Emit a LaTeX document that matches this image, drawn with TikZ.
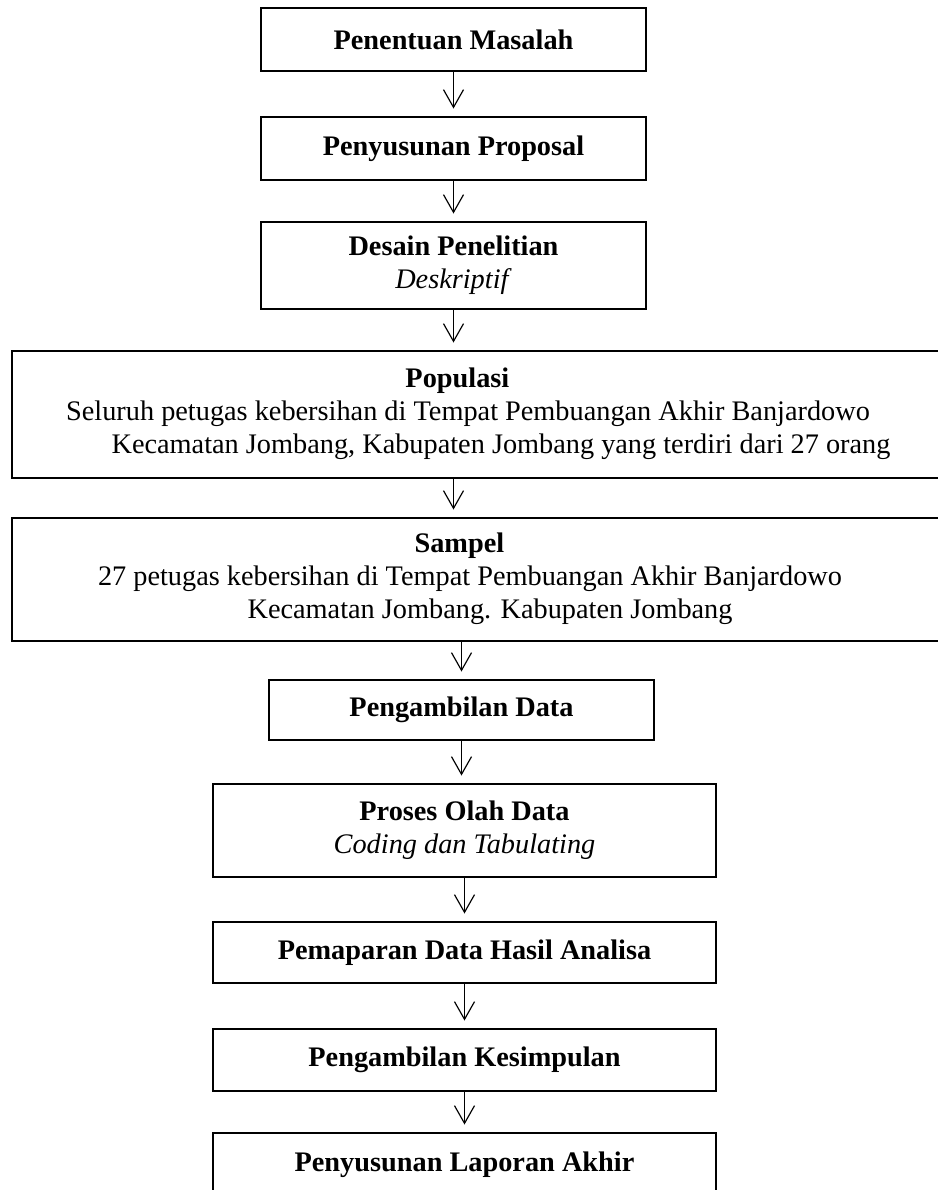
\documentclass[tikz,border=0pt]{standalone}
\usepackage{fontspec}
\setmainfont{Liberation Serif}
\usetikzlibrary{arrows.meta}

\newcommand{\px}{0.424pt}

\begin{document}
\begin{tikzpicture}[x=\px, y=-\px,
    font=\fontsize{12pt}{14pt}\selectfont,
    stepbox/.style={draw, line width=0.8pt, inner sep=0pt, align=center},
    flow/.style={-{Straight Barb[length=7.5pt,width=8.5pt]}, line width=0.5pt, shorten >=3.2pt}
]
\useasboundingbox (0,0) rectangle (937,1190);

% Tahap awal
\node[stepbox, minimum width=385*\px, minimum height=63*\px] (masalah) at (453.5,39.5) {\textbf{Penentuan Masalah}};
\node[stepbox, minimum width=385*\px, minimum height=63*\px] (proposal) at (453.5,148.5) {\textbf{Penyusunan Proposal}};
\node[stepbox, minimum width=385*\px, minimum height=87*\px] (desain) at (453.5,265.5) {\textbf{Desain Penelitian}\\\textit{Deskriptif}};

% Populasi dan sampel (kotak lebar)
\node[stepbox, minimum width=938*\px, minimum height=127*\px] (populasi) at (481,414.5) {};
\node[align=center] (populasitext) at (468,414) {\textbf{Populasi}\hspace*{9pt}\\Seluruh petugas kebersihan di Tempat Pembuangan Akhir Banjardowo\\\hspace*{28pt}Kecamatan Jombang, Kabupaten Jombang yang terdiri dari 27 orang};
\node[stepbox, minimum width=938*\px, minimum height=123*\px] (sampel) at (481,579.5) {};
\node[align=center] (sampeltext) at (470,579) {\textbf{Sampel}\hspace*{9pt}\\27 petugas kebersihan di Tempat Pembuangan Akhir Banjardowo\\\hspace*{17pt}Kecamatan Jombang. Kabupaten Jombang};

% Tahap pengolahan
\node[stepbox, minimum width=385*\px, minimum height=60*\px] (ambil) at (461.5,710) {\textbf{Pengambilan Data}};
\node[stepbox, minimum width=503*\px, minimum height=93*\px] (olah) at (464.5,830.5) {\textbf{Proses Olah Data}\\\textit{Coding dan Tabulating}};
\node[stepbox, minimum width=503*\px, minimum height=61*\px] (paparan) at (464.5,952.5) {\textbf{Pemaparan Data Hasil Analisa}};
\node[stepbox, minimum width=503*\px, minimum height=62*\px] (simpulan) at (464.5,1060) {\textbf{Pengambilan Kesimpulan}};
\node[stepbox, minimum width=503*\px, minimum height=64*\px] (laporan) at (464.5,1165) {\textbf{Penyusunan Laporan Akhir}};

% Panah alur
\draw[flow] (masalah) -- (proposal);
\draw[flow] (proposal) -- (desain);
\draw[flow] (desain.south) -- (desain.south |- populasi.north);
\draw[flow] (desain.south |- populasi.south) -- (desain.south |- sampel.north);
\draw[flow] (ambil.north |- sampel.south) -- (ambil.north);
\draw[flow] (ambil) -- (ambil.south |- olah.north);
\draw[flow] (olah) -- (paparan);
\draw[flow] (paparan) -- (simpulan);
\draw[flow] (simpulan) -- (laporan);

\end{tikzpicture}
\end{document}
